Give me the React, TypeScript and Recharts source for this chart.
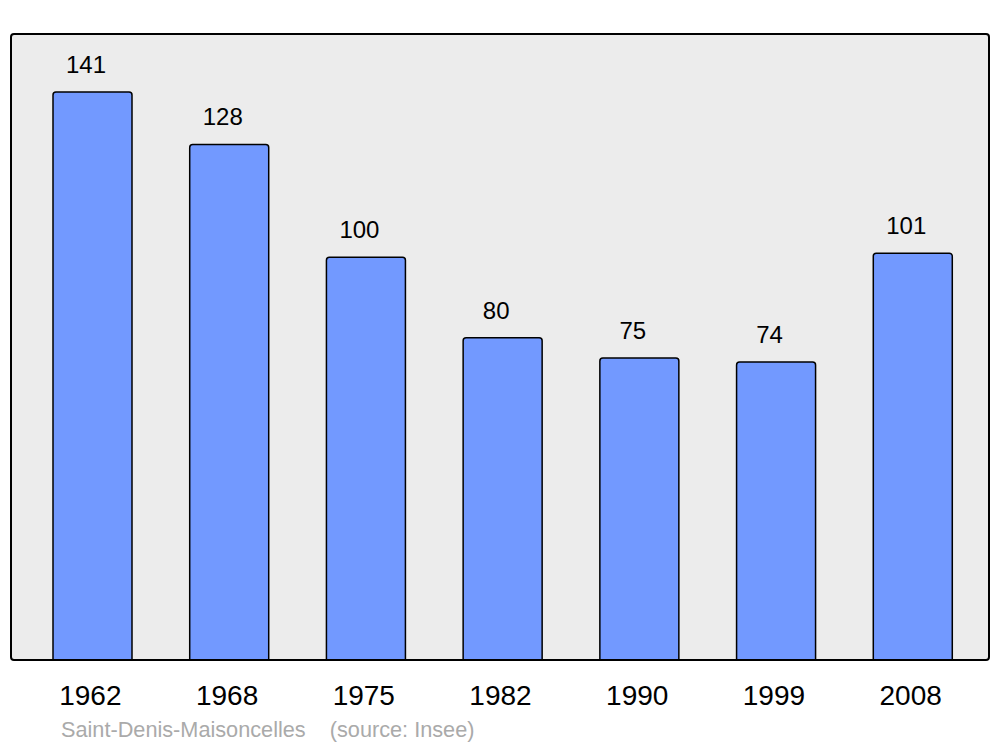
import { BarChart, Bar, XAxis, YAxis, CartesianGrid, LabelList } from 'recharts';

// ─── Data ─────────────────────────────────────────────────────────────────────

const YEARS = ['1962', '1968', '1975', '1982', '1990', '1999', '2008'];
const POPULATION = [141, 128, 100, 80, 75, 74, 101];
const CAPTION = 'Saint-Denis-Maisoncelles    (source: Insee)';

const data = YEARS.map((year, i) => ({ year, pop: POPULATION[i] }));

const FONT = '"Liberation Sans", Arial, sans-serif';

// value label sits a little left of the bar centre, like the original
function ValueLabel(props: any) {
  const { x, y, width, value } = props;
  return (
    <text x={x + width / 2 - 6.5} y={y - 19} textAnchor="middle" fontSize={24} fontFamily={FONT} fill="#000">
      {value}
    </text>
  );
}

function YearTick(props: any) {
  const { x, y, payload } = props;
  return (
    <text x={x - 2} y={y + 17} dy="0.71em" textAnchor="middle" fontSize={28} fontFamily={FONT} fill="#000">
      {payload.value}
    </text>
  );
}

export default function App() {
  return (
    <div style={{ position: 'absolute', left: 0, top: 0, width: 1000, height: 747, background: '#fff' }}>
      <BarChart width={1000} height={747} data={data} margin={{ top: 34, right: 11, bottom: 47, left: 11 }}>
        <CartesianGrid horizontal={false} vertical={false} fill="#ececec" stroke="none" />
        <XAxis
          dataKey="year" height={40} axisLine={false} tickLine={false} interval={0}
          padding={{ left: 13, right: 8 }} tick={<YearTick />}
        />
        <YAxis hide domain={[0, 155.4]} allowDataOverflow />
        <Bar
          dataKey="pop" barSize={79} fill="#7299ff" stroke="#000" strokeWidth={1.5}
          radius={[3, 3, 0, 0]} isAnimationActive={false}
        >
          <LabelList dataKey="pop" content={<ValueLabel />} />
        </Bar>
      </BarChart>
      {/* plot frame */}
      <div
        style={{
          position: 'absolute', left: 10, top: 33, width: 976, height: 624,
          border: '2.5px solid #000', borderRadius: 4, pointerEvents: 'none',
        }}
      />
      <div
        style={{
          position: 'absolute', left: 61, top: 719, fontFamily: FONT, fontSize: 21.7,
          lineHeight: '22px', color: '#aaaaaa', whiteSpace: 'pre',
        }}
      >
        {CAPTION}
      </div>
    </div>
  );
}
